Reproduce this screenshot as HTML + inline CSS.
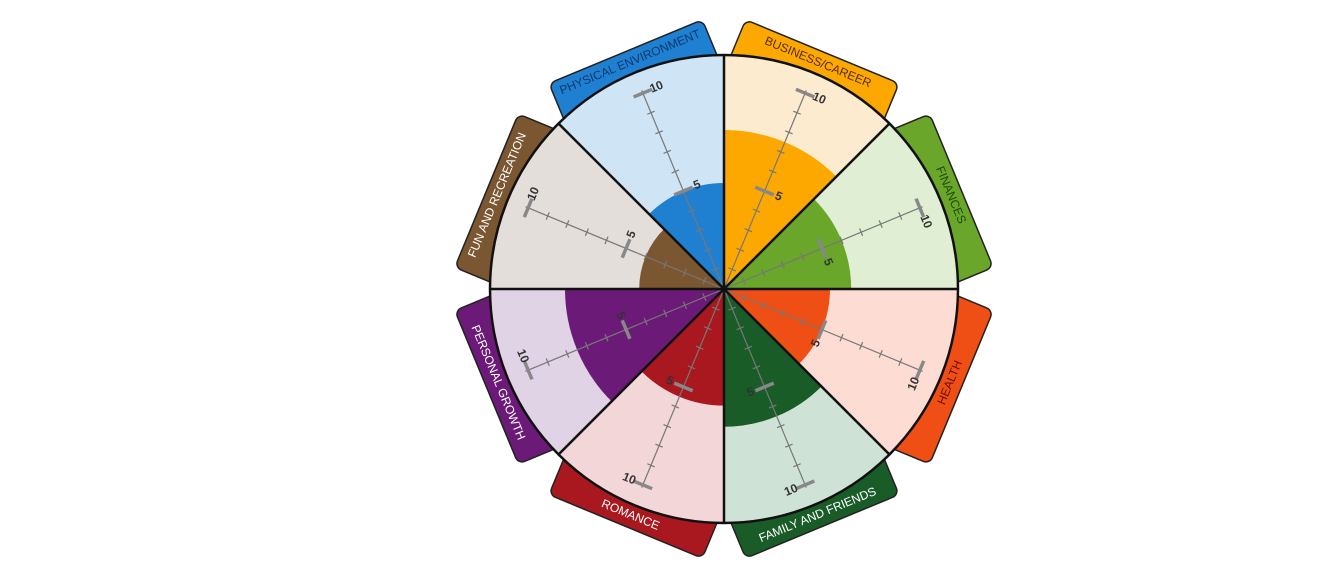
<!DOCTYPE html>
<html><head><meta charset="utf-8"><style>
html,body{margin:0;padding:0;background:#fff;}
svg{display:block;font-family:"Liberation Sans",sans-serif;}
</style></head><body>
<svg id="chart" width="1318" height="583" viewBox="0 0 1318 583"></svg>
<script>
const categories = ["BUSINESS/CAREER","FINANCES","HEALTH","FAMILY AND FRIENDS","ROMANCE","PERSONAL GROWTH","FUN AND RECREATION","PHYSICAL ENVIRONMENT"];
const values = [7.5, 6, 5, 6.5, 5.5, 7.5, 4, 5];
const tickLabels = ["5","10"];
const darkColors = ["#fca800","#6aa629","#ef4e14","#1a5c28","#a8181e","#6b1a77","#7a5631","#1f7fd1"];
const lightColors = ["#fdebd0","#e0eed3","#fcdcd3","#cfe2d6","#f3d6d8","#e0d3e6","#e4dedb","#cfe5f5"];
const textColors = ["#5a2a00","#1f4a10","#6a1000","#ffffff","#ffffff","#ffffff","#ffffff","#0d3a70"];

const NS="http://www.w3.org/2000/svg";
const svg=document.getElementById('chart');
const cx=724, cy=289, R=234, unit=21.2;
function rScale(v){return v*unit;}
function pt(r,deg){const a=(deg-90)*Math.PI/180;return [cx+r*Math.cos(a),cy+r*Math.sin(a)];}
function mk(tag,attrs,parent){const e=document.createElementNS(NS,tag);for(const k in attrs)e.setAttribute(k,attrs[k]);(parent||svg).appendChild(e);return e;}
function sector(r,a0,a1){const p0=pt(r,a0),p1=pt(r,a1);return `M${cx},${cy} L${p0[0]},${p0[1]} A${r},${r} 0 0 1 ${p1[0]},${p1[1]} Z`;}
const n=categories.length, step=360/n;

// tabs
categories.forEach((c,i)=>{
  const mid=i*step+step/2;
  const g=mk('g',{transform:`rotate(${mid} ${cx} ${cy})`});
  
  
  mk('rect',{x:cx-83,y:cy-257,width:166,height:80,rx:7,fill:darkColors[i],stroke:'#222','stroke-width':1.5},g);
  const rot=(mid>90&&mid<270)?mid-180:mid;
  const p=pt(245,mid);
  const t=mk('text',{x:p[0],y:p[1],'text-anchor':'middle','dominant-baseline':'middle','font-size':12,fill:textColors[i],transform:`rotate(${rot} ${p[0]} ${p[1]})`});
  
  
  t.textContent=c;
});
// sectors
categories.forEach((c,i)=>{
  const a0=i*step,a1=a0+step;
  const bg=mk('path',{d:sector(R,a0,a1),fill:lightColors[i]});
  
  
  const f=mk('path',{d:sector(rScale(values[i]),a0,a1),fill:darkColors[i]});
  
  
});
// axes
categories.forEach((c,i)=>{
  const mid=i*step+step/2;
  const g=mk('g',{transform:`rotate(${mid} ${cx} ${cy})`});
  
  
  mk('line',{x1:cx,y1:cy,x2:cx,y2:cy-rScale(10)-3,stroke:'#777','stroke-width':1.2},g);
  for(let k=1;k<=10;k++){
    const y=cy-rScale(k);
    const big=(k===5||k===10);
    mk('line',{x1:cx-(big?10:4),y1:y,x2:cx+(big?10:4),y2:y,stroke:big?'#888':'#777','stroke-width':big?3.5:1.2},g);
  }
  const rot=(mid>90&&mid<270)?mid-180:mid;
  tickLabels.forEach(lbl=>{
    const v=+lbl;
    const a=(mid-90)*Math.PI/180, pa=a+Math.PI/2;
    const x=cx+rScale(v)*Math.cos(a)+15*Math.cos(pa), y=cy+rScale(v)*Math.sin(a)+15*Math.sin(pa);
    const t=mk('text',{x:x,y:y,'text-anchor':'middle','dominant-baseline':'middle','font-size':12,'font-weight':'bold',fill:'#333',transform:`rotate(${rot} ${x} ${y})`});
    
    
    t.textContent=lbl;
  });
});
// dividers and outline
for(let i=0;i<n;i++){
  const p=pt(R,i*step);
  const l=mk('line',{x1:cx,y1:cy,x2:p[0],y2:p[1],stroke:'#111','stroke-width':2.5});
  
  
}
const o=mk('circle',{cx:cx,cy:cy,r:R,fill:'none',stroke:'#111','stroke-width':2.5});


</script>
</body></html>
